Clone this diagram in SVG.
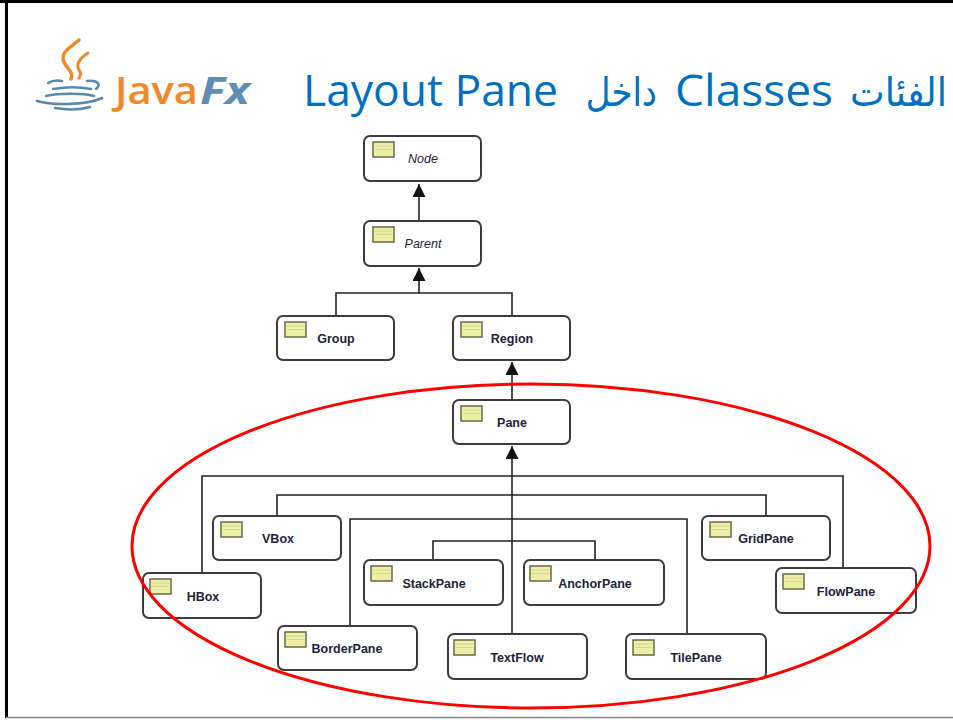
<svg xmlns="http://www.w3.org/2000/svg" width="953" height="720" viewBox="0 0 953 720">
<style>
.box{fill:#fff;stroke:#3c3c3c;stroke-width:2}
.ico{fill:#eeeea6;stroke:#6a6a4c;stroke-width:1.5}
.icl{stroke:#d6d68e;stroke-width:1}
.lbl{font-family:"Liberation Sans",Arial,sans-serif;font-size:12.5px;font-weight:bold;fill:#22223a;text-anchor:middle}
.it{font-style:italic;font-weight:normal}
.con{fill:none;stroke:#222;stroke-width:1.6}
.ttl{font-family:"Open Sans","Liberation Sans",sans-serif;font-size:43px;fill:#0070c0}
.ar{font-family:"DejaVu Sans","Noto Sans",sans-serif;font-size:40px;fill:#0070c0;text-anchor:end}
</style>
<defs>
<marker id="arr" viewBox="0 0 14 14" refX="14" refY="7" markerWidth="13" markerHeight="13" markerUnits="userSpaceOnUse" orient="auto">
<path d="M0,0 L14,7 L0,14 z" fill="#111"/>
</marker>
<g id="icon"><rect class="ico" x="0" y="0" width="21" height="15"/><line class="icl" x1="2" y1="7.5" x2="19" y2="7.5"/><line class="icl" x1="2" y1="4" x2="19" y2="4"/></g>
</defs>
<rect width="953" height="720" fill="#fff"/>
<!-- frame -->
<line x1="0" y1="1.5" x2="953" y2="1.5" stroke="#000" stroke-width="3"/>
<line x1="6.5" y1="0" x2="6.5" y2="718" stroke="#000" stroke-width="3"/>
<line x1="6" y1="717.5" x2="953" y2="717.5" stroke="#888" stroke-width="1.5"/>
<!-- logo -->
<g id="logo">
<path d="M79,40 C70,48 60,52 64,62 C67,69 74,72 71,79" fill="none" stroke="#f0892a" stroke-width="3.5" stroke-linecap="round"/>
<path d="M88,53 C82,57 76,62 78,68 C80,72 82,74 79,78" fill="none" stroke="#f0892a" stroke-width="3" stroke-linecap="round"/>
<path d="M48,83 C53,80 58,80 62,81" fill="none" stroke="#5a89ab" stroke-width="2.5" stroke-linecap="round"/>
<path d="M87,81 C97,80 102,84 96,89" fill="none" stroke="#5a89ab" stroke-width="2.5" stroke-linecap="round"/>
<path d="M53,89 C65,87 80,87 91,89" fill="none" stroke="#5a89ab" stroke-width="2.5" stroke-linecap="round"/>
<path d="M46,96 C58,93 84,93 94,96" fill="none" stroke="#5a89ab" stroke-width="2.5" stroke-linecap="round"/>
<path d="M37,101 C50,105 85,106 102,98" fill="none" stroke="#5a89ab" stroke-width="2.5" stroke-linecap="round"/>
<path d="M55,108 C67,110 80,110 90,107" fill="none" stroke="#5a89ab" stroke-width="2.5" stroke-linecap="round"/>
<text x="115" y="104" textLength="83" lengthAdjust="spacingAndGlyphs" font-family="'Open Sans','Liberation Sans',sans-serif" font-size="38" font-weight="600" fill="#f0892a">Java</text>
<text x="200" y="104" textLength="50" lengthAdjust="spacingAndGlyphs" font-family="'Open Sans','Liberation Sans',sans-serif" font-size="38" font-weight="bold" font-style="italic" fill="#5e8fb3">Fx</text>
</g>
<!-- title -->
<g id="title">
<text class="ttl" x="303" y="106" textLength="255" lengthAdjust="spacingAndGlyphs">Layout Pane</text>
<text class="ar" transform="translate(657,106) scale(0.85,1)" x="0" y="0">داخل</text>
<text class="ttl" x="675" y="106" textLength="158" lengthAdjust="spacingAndGlyphs">Classes</text>
<text class="ar" transform="translate(947,106) scale(0.92,1)" x="0" y="0">الفئات</text>
</g>
<!-- connectors -->
<g id="connectors">
<path class="con" d="M419,221 V184" marker-end="url(#arr)"/>
<path class="con" d="M336,316 V293 H512 V316"/>
<path class="con" d="M419,293 V268" marker-end="url(#arr)"/>
<path class="con" d="M512,400 V362" marker-end="url(#arr)"/>
<path class="con" d="M512,634 V446" marker-end="url(#arr)"/>
<path class="con" d="M202,573 V476 H843 V568"/>
<path class="con" d="M277,516 V495 H766 V516"/>
<path class="con" d="M350,626 V519 H687 V634"/>
<path class="con" d="M433,560 V541 H595 V560"/>
</g>
<!-- nodes -->
<g id="node-Node"><rect class="box" x="364" y="136" width="117" height="45" rx="6"/><use href="#icon" x="373" y="142"/><text class="lbl it" x="423" y="163">Node</text></g>
<g id="node-Parent"><rect class="box" x="364" y="221" width="117" height="45" rx="6"/><use href="#icon" x="373" y="227"/><text class="lbl it" x="423" y="248">Parent</text></g>
<g id="node-Group"><rect class="box" x="277" y="316" width="117" height="44" rx="6"/><use href="#icon" x="285" y="322"/><text class="lbl" x="336" y="343">Group</text></g>
<g id="node-Region"><rect class="box" x="453" y="316" width="117" height="44" rx="6"/><use href="#icon" x="461" y="322"/><text class="lbl" x="512" y="343">Region</text></g>
<g id="node-Pane"><rect class="box" x="453" y="400" width="117" height="44" rx="6"/><use href="#icon" x="461" y="406"/><text class="lbl" x="512" y="427">Pane</text></g>
<g id="node-VBox"><rect class="box" x="213" y="516" width="128" height="44" rx="6"/><use href="#icon" x="221" y="522"/><text class="lbl" x="278" y="543">VBox</text></g>
<g id="node-HBox"><rect class="box" x="143" y="573" width="118" height="45" rx="6"/><use href="#icon" x="150" y="579"/><text class="lbl" x="203" y="601">HBox</text></g>
<g id="node-StackPane"><rect class="box" x="364" y="560" width="139" height="45" rx="6"/><use href="#icon" x="371" y="566"/><text class="lbl" x="434" y="588">StackPane</text></g>
<g id="node-AnchorPane"><rect class="box" x="524" y="560" width="140" height="45" rx="6"/><use href="#icon" x="530" y="566"/><text class="lbl" x="595" y="588">AnchorPane</text></g>
<g id="node-BorderPane"><rect class="box" x="278" y="626" width="139" height="44" rx="6"/><use href="#icon" x="285" y="632"/><text class="lbl" x="347" y="653">BorderPane</text></g>
<g id="node-TextFlow"><rect class="box" x="448" y="634" width="139" height="45" rx="6"/><use href="#icon" x="454" y="640"/><text class="lbl" x="517" y="662">TextFlow</text></g>
<g id="node-TilePane"><rect class="box" x="626" y="634" width="140" height="45" rx="6"/><use href="#icon" x="633" y="640"/><text class="lbl" x="696" y="662">TilePane</text></g>
<g id="node-GridPane"><rect class="box" x="702" y="516" width="128" height="44" rx="6"/><use href="#icon" x="710" y="522"/><text class="lbl" x="766" y="543">GridPane</text></g>
<g id="node-FlowPane"><rect class="box" x="776" y="568" width="140" height="45" rx="6"/><use href="#icon" x="783" y="574"/><text class="lbl" x="846" y="596">FlowPane</text></g>
<!-- highlight ellipse -->
<ellipse id="highlight" cx="531" cy="546" rx="399" ry="162" fill="none" stroke="#f00" stroke-width="3"/>
</svg>
